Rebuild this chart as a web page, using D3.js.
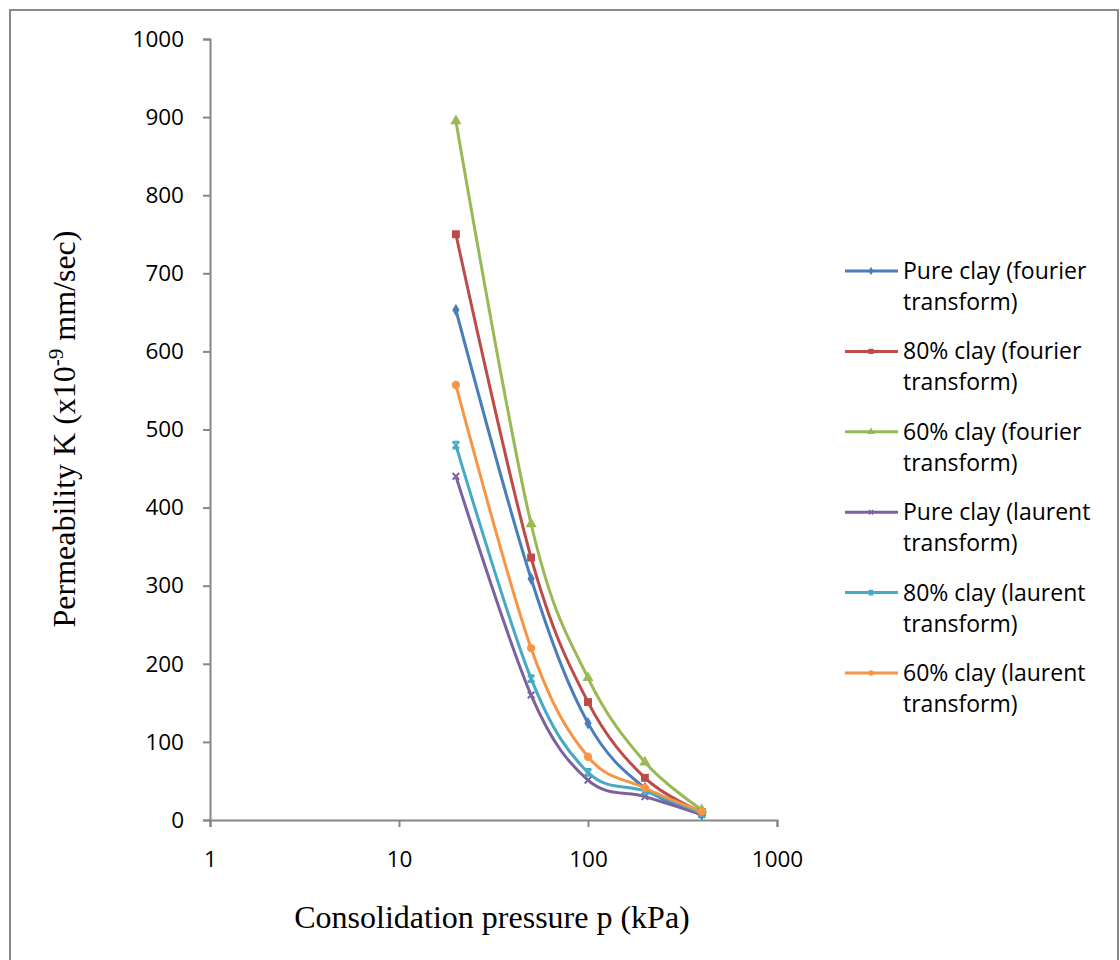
<!DOCTYPE html>
<html>
<head>
<meta charset="utf-8">
<style>
  body { margin: 0; background: #fff; }
  svg text { fill: #000; }
</style>
</head>
<body>
<div id="chart"></div>
<script src="https://d3js.org/d3.v7.min.js"></script>
<script>
// pressure values (kPa), shared by all series
var pressures = [20, 50, 100, 200, 400];

var seriesNames = [
    ["Pure clay (fourier", "transform)"],
    ["80% clay (fourier", "transform)"],
    ["60% clay (fourier", "transform)"],
    ["Pure clay (laurent", "transform)"],
    ["80% clay (laurent", "transform)"],
    ["60% clay (laurent", "transform)"]
];
var pureFourier = [653, 309, 124, 41, 7];
var clay80Fourier = [750, 336, 151, 54, 10];
var clay60Fourier = [895, 379, 182, 74, 13];
var pureLaurent = [440, 160, 51, 30, 7];
var clay80Laurent = [480, 181, 61, 37, 9];
var clay60Laurent = [557, 220, 81, 41, 11];
var seriesValues = [pureFourier, clay80Fourier, clay60Fourier, pureLaurent, clay80Laurent, clay60Laurent];

var colors = ["#4a7ebb", "#be4b48", "#98b954", "#7d60a0", "#46aac5", "#f69545"];
var markers = ["diamond", "square", "triangle", "x", "star", "circle"];

var yTicks = [0, 100, 200, 300, 400, 500, 600, 700, 800, 900, 1000];
var xTicks = [1, 10, 100, 1000];

var W = 1120, H = 960;
var svg = d3.select("#chart").append("svg")
    .attr("width", W).attr("height", H);

// outer frame
svg.append("rect")
    .attr("x", 10).attr("y", 10).attr("width", 1108).attr("height", 970)
    .attr("fill", "none").attr("stroke", "#888").attr("stroke-width", 2);

var x = d3.scaleLog().domain([1, 1000]).range([210, 777]);
var y = d3.scaleLinear().domain([0, 1000]).range([820, 39]);

var axisColor = "#868686";

// y axis
var yAxis = d3.axisLeft(y).tickValues(yTicks).tickSize(7).tickPadding(19).tickFormat(d3.format("d"));
var gy = svg.append("g").attr("transform", "translate(210,0)").call(yAxis);
gy.select(".domain").attr("stroke", axisColor).attr("stroke-width", 2);
gy.selectAll(".tick line").attr("stroke", axisColor).attr("stroke-width", 2);
gy.selectAll(".tick text").attr("font-family", "Open Sans").attr("font-size", 22.5).attr("fill", "#000");

// x axis
var xAxis = d3.axisBottom(x).tickValues(xTicks).tickSize(7).tickPadding(24).tickFormat(d3.format("d"));
var gx = svg.append("g").attr("transform", "translate(0,820)").call(xAxis);
gx.select(".domain").attr("stroke", axisColor).attr("stroke-width", 2);
gx.selectAll(".tick line").attr("stroke", axisColor).attr("stroke-width", 2);
gx.selectAll(".tick text").attr("font-family", "Open Sans").attr("font-size", 22.5).attr("fill", "#000");

// axis titles
svg.append("text")
    .attr("x", 492).attr("y", 928)
    .attr("text-anchor", "middle")
    .attr("font-family", "Liberation Serif").attr("font-size", 32)
    .text("Consolidation pressure p (kPa)");

var yt = svg.append("text")
    .attr("transform", "translate(75,429) rotate(-90)")
    .attr("text-anchor", "middle")
    .attr("font-family", "Liberation Serif").attr("font-size", 32);
yt.append("tspan").text("Permeability K (x10");
yt.append("tspan").attr("font-size", 21).attr("dy", -12).text("-9");
yt.append("tspan").attr("dy", 12).text(" mm/sec)");

function markerPath(type, s) {
    if (type == "diamond") return d3.symbol().type(d3.symbolDiamond).size(s * 5)();
    if (type == "square") return d3.symbol().type(d3.symbolSquare).size(s * 7)();
    if (type == "triangle") return d3.symbol().type(d3.symbolTriangle).size(s * 6)();
    if (type == "circle") return d3.symbol().type(d3.symbolCircle).size(s * 6)();
    var r = Math.sqrt(s * 1.2);
    if (type == "x") return "M" + (-r) + "," + (-r) + "L" + r + "," + r + "M" + (-r) + "," + r + "L" + r + "," + (-r);
    // star: x with top and bottom bars
    return "M" + (-r) + "," + (-r) + "L" + r + "," + r + "M" + (-r) + "," + r + "L" + r + "," + (-r) +
        "M" + (-r) + "," + (-r) + "L" + r + "," + (-r) + "M" + (-r) + "," + r + "L" + r + "," + r;
}

var line = d3.line()
    .x(d => x(d[0]))
    .y(d => y(d[1]))
    .curve(d3.curveCardinal.tension(0));

var plot = svg.append("g");
seriesValues.forEach(function(vals, i) {
    var pts = pressures.map((p, j) => [p, vals[j]]);
    plot.append("path")
        .datum(pts)
        .attr("d", line)
        .attr("fill", "none")
        .attr("stroke", colors[i])
        .attr("stroke-width", 3);
});
seriesValues.forEach(function(vals, i) {
    var pts = pressures.map((p, j) => [p, vals[j]]);
    var m = markers[i];
    plot.selectAll(".m" + i)
        .data(pts)
        .enter()
        .append("path")
        .attr("class", "m" + i)
        .attr("transform", d => "translate(" + x(d[0]) + "," + y(d[1]) + ")")
        .attr("d", markerPath(m, 9))
        .attr("fill", (m == "x" || m == "star") ? "none" : colors[i])
        .attr("stroke", colors[i])
        .attr("stroke-width", (m == "x" || m == "star") ? 2 : 0);
});

// legend
var legend = svg.append("g");
seriesNames.forEach(function(name, i) {
    var ly = 271 + i * 80.4;
    var g = legend.append("g").attr("transform", "translate(0," + ly + ")");
    g.append("line").attr("x1", 845).attr("x2", 898).attr("y1", 0).attr("y2", 0)
        .attr("stroke", colors[i]).attr("stroke-width", 3);
    var m = markers[i];
    g.append("path")
        .attr("transform", "translate(871,0)")
        .attr("d", markerPath(m, 4))
        .attr("fill", (m == "x" || m == "star") ? "none" : colors[i])
        .attr("stroke", colors[i])
        .attr("stroke-width", (m == "x" || m == "star") ? 1.5 : 0);
    g.append("text").attr("x", 903).attr("y", 8)
        .attr("font-family", "Open Sans").attr("font-size", 23)
        .text(name[0]);
    g.append("text").attr("x", 903).attr("y", 39)
        .attr("font-family", "Open Sans").attr("font-size", 23)
        .text(name[1]);
});
</script>
</body>
</html>
